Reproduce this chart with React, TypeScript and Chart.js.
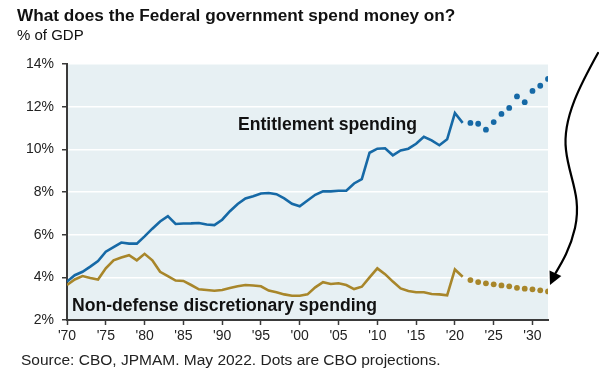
import React, { useEffect, useRef } from "react";
import { Chart, registerables } from "chart.js";

Chart.register(...registerables);

const years: number[] = [];
for (let y = 1970; y <= 2021; y++) years.push(y);
const projYears: number[] = [];
for (let y = 2022; y <= 2032; y++) projYears.push(y);

const entitlement = [
  3.8, 4.1, 4.26, 4.5, 4.76, 5.2, 5.42, 5.63, 5.58, 5.58,
  5.92, 6.28, 6.62, 6.87, 6.5, 6.52, 6.53, 6.55, 6.48, 6.45,
  6.7, 7.1, 7.44, 7.7, 7.8, 7.93, 7.95, 7.9, 7.7, 7.45,
  7.33, 7.6, 7.87, 8.03, 8.03, 8.06, 8.06, 8.4, 8.6, 9.84,
  10.03, 10.05, 9.72, 9.95, 10.03, 10.26, 10.59, 10.42, 10.19, 10.47,
  11.7, 11.24,
];
const entitlementProj = [11.24, 11.2, 10.92, 11.28, 11.66, 11.94, 12.48, 12.21, 12.74, 12.98, 13.3];

const nonDefense = [
  3.64, 3.9, 4.06, 3.97, 3.9, 4.42, 4.8, 4.93, 5.04, 4.8,
  5.1, 4.8, 4.26, 4.06, 3.85, 3.83, 3.64, 3.44, 3.41, 3.37,
  3.41, 3.5, 3.58, 3.64, 3.62, 3.58, 3.38, 3.3, 3.2, 3.14,
  3.14, 3.2, 3.53, 3.77, 3.69, 3.72, 3.64, 3.45, 3.56, 4.0,
  4.42, 4.15, 3.8, 3.48, 3.36, 3.3, 3.3, 3.22, 3.2, 3.16,
  4.37, 4.03,
];
const nonDefenseProj = [3.87, 3.78, 3.72, 3.67, 3.62, 3.58, 3.51, 3.47, 3.44, 3.39, 3.34];

const xTicks = [1970, 1975, 1980, 1985, 1990, 1995, 2000, 2005, 2010, 2015, 2020, 2025, 2030];
const yTicks = [2, 4, 6, 8, 10, 12, 14];

const BLUE = "#1669a6";
const GOLD = "#a8862a";
const BG = "#e7f0f3";
const AXIS = "#3a3a3a";

const pts = (xs: number[], ys: number[]) => xs.map((x, i) => ({ x, y: ys[i] }));

const decor = {
  id: "decor",
  beforeDraw(chart: any) {
    const { ctx, chartArea: a } = chart;
    ctx.save();
    ctx.fillStyle = BG;
    ctx.fillRect(a.left, a.top, a.right - a.left, a.bottom - a.top);
    ctx.restore();
  },
  afterDraw(chart: any) {
    const { ctx } = chart;
    ctx.save();
    ctx.fillStyle = "#111";
    ctx.textBaseline = "middle";
    ctx.textAlign = "left";
    ctx.font = "bold 17.6px 'Liberation Sans', Arial, sans-serif";
    ctx.fillText("Entitlement spending", 238, 125);
    ctx.fillText("Non-defense discretionary spending", 72, 306);

    // hand-drawn arrow
    ctx.strokeStyle = "#000";
    ctx.lineWidth = 2.2;
    ctx.lineCap = "round";
    ctx.beginPath();
    ctx.moveTo(598, 53);
    ctx.bezierCurveTo(582, 82, 562, 118, 566, 150);
    ctx.bezierCurveTo(569, 178, 582, 196, 575, 228);
    ctx.bezierCurveTo(570, 250, 561, 264, 555, 274);
    ctx.stroke();
    // arrowhead
    const tipX = 550, tipY = 285;
    const ang = Math.atan2(tipY - 272, tipX - 556);
    const len = 13, half = 6.5;
    const bx = tipX - len * Math.cos(ang), by = tipY - len * Math.sin(ang);
    ctx.fillStyle = "#000";
    ctx.beginPath();
    ctx.moveTo(tipX, tipY);
    ctx.lineTo(bx + half * Math.sin(ang), by - half * Math.cos(ang));
    ctx.lineTo(bx - half * Math.sin(ang), by + half * Math.cos(ang));
    ctx.closePath();
    ctx.fill();
    ctx.restore();
  },
};

export default function App() {
  const ref = useRef<HTMLCanvasElement | null>(null);

  useEffect(() => {
    document.body.style.margin = "0";
    const canvas = ref.current!;
    const chart = new Chart(canvas, {
      type: "line",
      data: {
        datasets: [
          {
            data: pts(years, entitlement),
            borderColor: BLUE,
            borderWidth: 2.6,
            pointRadius: 0,
            tension: 0,
          },
          {
            data: pts(projYears, entitlementProj),
            borderColor: BLUE,
            backgroundColor: BLUE,
            showLine: false,
            pointRadius: 2.9,
            pointBorderWidth: 0,
          },
          {
            data: pts(years, nonDefense),
            borderColor: GOLD,
            borderWidth: 2.6,
            pointRadius: 0,
            tension: 0,
          },
          {
            data: pts(projYears, nonDefenseProj),
            borderColor: GOLD,
            backgroundColor: GOLD,
            showLine: false,
            pointRadius: 2.9,
            pointBorderWidth: 0,
          },
        ],
      },
      options: {
        animation: false,
        responsive: false,
        maintainAspectRatio: false,
        layout: { padding: { left: 0, right: 52, top: 64, bottom: 26 } },
        plugins: { legend: { display: false }, tooltip: { enabled: false }, title: { display: false } },
        scales: {
          x: {
            type: "linear",
            min: 1970,
            max: 2032,
            afterBuildTicks: (s: any) => {
              s.ticks = xTicks.map((v) => ({ value: v }));
            },
            afterFit: (s: any) => {
              s.height = 30;
            },
            grid: { drawOnChartArea: false, tickColor: AXIS, tickLength: 5, tickWidth: 1.5 },
            border: { display: true, color: AXIS, width: 2 },
            ticks: {
              padding: 3,
              color: "#222",
              font: { family: "'Liberation Sans', Arial, sans-serif", size: 14 },
              maxRotation: 0,
              autoSkip: false,
              callback: (v: any) => "'" + String(v).slice(2),
            },
          },
          y: {
            min: 2,
            max: 14,
            afterBuildTicks: (s: any) => {
              s.ticks = yTicks.map((v) => ({ value: v }));
            },
            afterFit: (s: any) => {
              s.width = 67;
            },
            grid: { color: "#ffffff", lineWidth: 1.5, tickColor: AXIS, tickLength: 5, tickWidth: 1.5 },
            border: { display: true, color: AXIS, width: 2 },
            ticks: {
              padding: 8,
              color: "#222",
              font: { family: "'Liberation Sans', Arial, sans-serif", size: 14 },
              callback: (v: any) => v + "%",
            },
          },
        },
      },
      plugins: [decor],
    });
    return () => chart.destroy();
  }, []);

  const font = "'Liberation Sans', Arial, sans-serif";
  return (
    <div style={{ position: "relative", width: 600, height: 376, background: "#fff", overflow: "hidden" }}>
      <canvas ref={ref} width={600} height={376} style={{ position: "absolute", left: 0, top: 0, width: 600, height: 376 }} />
      <div style={{ position: "absolute", left: 17, top: 5, fontFamily: font, fontWeight: "bold", fontSize: 17.2, color: "#111", whiteSpace: "nowrap" }}>
        What does the Federal government spend money on?
      </div>
      <div style={{ position: "absolute", left: 17, top: 26, fontFamily: font, fontSize: 15, color: "#111", whiteSpace: "nowrap" }}>
        % of GDP
      </div>
      <div style={{ position: "absolute", left: 21, top: 351, fontFamily: font, fontSize: 15.5, color: "#222", whiteSpace: "nowrap" }}>
        Source: CBO, JPMAM. May 2022. Dots are CBO projections.
      </div>
    </div>
  );
}
